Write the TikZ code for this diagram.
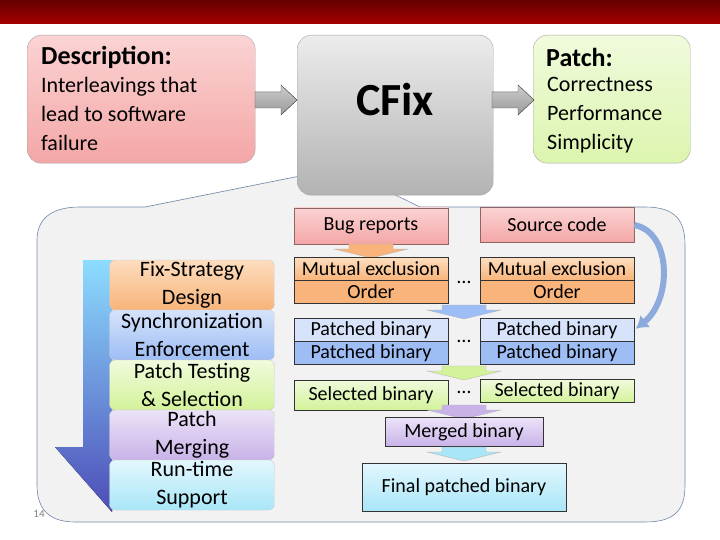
\documentclass[tikz,border=0pt]{standalone}
\usepackage{fontspec}
\setmainfont{Carlito}
\usetikzlibrary{positioning,arrows.meta}
\definecolor{pinkA}{HTML}{FBD3D3}\definecolor{pinkB}{HTML}{F4A6A6}
\definecolor{oraA}{HTML}{FDDDBE}\definecolor{oraB}{HTML}{F8B47A}
\definecolor{bluA}{HTML}{D6E3FB}\definecolor{bluB}{HTML}{9DBDF4}
\definecolor{grnA}{HTML}{F0FBDC}\definecolor{grnB}{HTML}{D3F29A}
\definecolor{purA}{HTML}{ECE3F8}\definecolor{purB}{HTML}{C8B2E8}
\definecolor{cyaA}{HTML}{E3F7FD}\definecolor{cyaB}{HTML}{A8E6F8}
\definecolor{panel}{HTML}{F2F2F2}\definecolor{edge}{HTML}{6F87A8}
\tikzset{
  top/.style={draw=gray!70, rounded corners=14pt, align=left, anchor=north west, inner sep=0pt},
  stage/.style={draw=gray!40, rounded corners=6pt, minimum width=165pt, minimum height=50pt,
    align=center, font=\fontsize{22}{28}\selectfont, inner sep=0pt},
  cell/.style={draw=black!80, minimum width=154pt, inner sep=0pt, font=\fontsize{20}{22}\selectfont},
  dots/.style={font=\fontsize{20}{22}\selectfont},
  down/.pic={\fill[#1, draw=black!30, line width=.3pt] (-22,0) -- (22,0) -- (22,5) -- (37,5) -- (0,14) -- (-37,5) -- (-22,5) -- cycle;},
  right/.pic={\fill[top color=gray!40, bottom color=gray!80, draw=gray!60!black] (0,-8) -- (26,-8) -- (26,-15) -- (42,0) -- (26,15) -- (26,8) -- (0,8) -- cycle;}
}
\begin{document}
\begin{tikzpicture}[x=1pt,y=-1pt]
\useasboundingbox (0,0) rectangle (720,540);
% banner
\fill[top color=red!40!black, bottom color=red!65!black] (0,0) rectangle (720,24);
\fill[white] (0,24) .. controls (300,34) and (500,34) .. (720,26) -- (720,40) -- (0,40) -- cycle;
% callout panel
\filldraw[fill=panel, draw=edge, line width=.6pt] (37,240) .. controls (37,220) and (50,207) .. (80,207)
  -- (145,207) -- (340,168) -- (420,207) -- (645,207) .. controls (675,207) and (685,220) .. (685,245)
  -- (685,485) .. controls (685,510) and (675,522) .. (645,522) -- (75,522) .. controls (50,522) and (37,510) .. (37,485) -- cycle;
% top boxes
\node[top, top color=pinkA, bottom color=pinkB, minimum width=228pt, minimum height=128pt] (desc) at (27,35) {};
\node[anchor=north west, align=left, font=\fontsize{22}{29}\selectfont, inner sep=0pt] (desct) at (41,77)
  {Interleavings that\\lead to software\\failure};
\node[anchor=west, font=\bfseries\fontsize{26}{30}\selectfont, inner sep=0pt] (descl) at (41,57) {Description:};
\node[top, top color=gray!15, bottom color=gray!60, minimum width=196pt, minimum height=160pt] (cfix) at (297,35) {};
\node[font=\bfseries\fontsize{46}{50}\selectfont] (cfixt) at (395,100) {CFix};
\node[top, top color=grnA, bottom color=grnB!80, minimum width=157pt, minimum height=128pt] (patch) at (533,35) {};
\node[anchor=west, font=\bfseries\fontsize{26}{30}\selectfont, inner sep=0pt] (patchl) at (546,57) {Patch:};
\node[anchor=north west, align=left, font=\fontsize{22}{29}\selectfont, inner sep=0pt] (patcht) at (547,77)
  {Correctness\\Performance\\Simplicity};
\pic at (255,100) {right};
\pic at (492,100) {right};
% left bent arrow
\fill[top color=blue!30!cyan!45, bottom color=blue!60!black!70] (83,260) -- (112,260) -- (112,512) -- (55,447) -- (83,447) -- cycle;
% stages
\node[stage, top color=oraA, bottom color=oraB] (s1) at (192,285) {Fix-Strategy\\Design};
\node[stage, top color=bluA, bottom color=bluB] (s2) at (192,335) {Synchronization\\Enforcement};
\node[stage, top color=grnA, bottom color=grnB] (s3) at (192,385) {Patch Testing\\\&~Selection};
\node[stage, top color=purA, bottom color=purB] (s4) at (192,435) {Patch\\Merging};
\node[stage, top color=cyaA, bottom color=cyaB] (s5) at (192,485) {Run-time\\Support};
\node[text=gray, font=\fontsize{11}{12}\selectfont] (pg) at (39,514) {14};
% right flow
\node[cell, draw=pinkB!60!black, top color=pinkA, bottom color=pinkB, minimum height=36pt] (bug) at (371,226) {Bug reports};
\node[cell, draw=pinkB!60!black, top color=pinkA, bottom color=pinkB, minimum height=35pt] (src) at (557,225) {Source code};
\pic at (371,244) {down=oraB};
\node[cell, top color=oraA, bottom color=oraB, minimum height=23pt] (m1) at (371,269) {Mutual exclusion};
\node[cell, fill=oraB, minimum height=23pt] (o1) at (371,292) {Order};
\node[cell, top color=oraA, bottom color=oraB, minimum height=23pt] (m2) at (557,269) {Mutual exclusion};
\node[cell, fill=oraB, minimum height=23pt] (o2) at (557,292) {Order};
\node[dots] (d1) at (464,282) {\dots};
\pic at (464,305) {down=bluB};
\node[cell, fill=bluA, minimum height=23pt] (p1) at (371,330) {Patched binary};
\node[cell, fill=bluB, minimum height=23pt] (q1) at (371,353) {Patched binary};
\node[cell, fill=bluA, minimum height=23pt] (p2) at (557,330) {Patched binary};
\node[cell, fill=bluB, minimum height=23pt] (q2) at (557,353) {Patched binary};
\node[dots] (d2) at (464,341) {\dots};
\pic at (464,366) {down=grnB};
\node[cell, top color=grnA, bottom color=grnB, minimum height=30pt] (e1) at (371,395) {Selected binary};
\node[cell, top color=grnA, bottom color=grnB, minimum height=23pt] (e2) at (557,391) {Selected binary};
\node[dots] (d3) at (464,392) {\dots};
\pic at (464,405) {down=purB};
\node[cell, minimum width=158pt, minimum height=29pt, top color=purA, bottom color=purB] (mg) at (464,432) {Merged binary};
\pic at (464,447) {down=cyaB};
\node[cell, minimum width=204pt, minimum height=48pt, top color=cyaA, bottom color=cyaB] (fin) at (464,487) {Final patched binary};
% curved arrow
\draw[line width=6pt, draw=bluB!90!black, -{Latex[length=12pt,width=16pt]}, shorten >=2pt]
  (src.east) .. controls (672,232) and (672,300) .. (p2.east);
\end{tikzpicture}
\end{document}
